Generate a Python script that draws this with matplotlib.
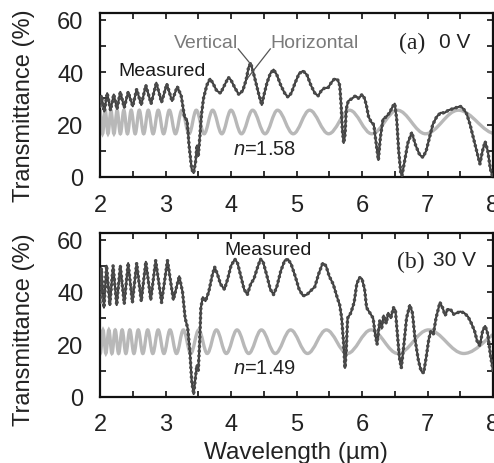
import matplotlib
matplotlib.use('Agg')
import matplotlib.pyplot as plt
from matplotlib.path import Path
from matplotlib.patches import PathPatch
from matplotlib.ticker import MultipleLocator

plt.rcParams['font.family'] = ['Liberation Sans', 'DejaVu Sans']
plt.rcParams['mathtext.fontset'] = 'custom'
plt.rcParams['mathtext.it'] = 'Liberation Sans:italic'
plt.rcParams['mathtext.rm'] = 'Liberation Sans'

# ---------------- data ----------------
# model (Fabry-Perot) extrema, panel (a) n=1.58
model_a_x = [1.962, 2.000, 2.039, 2.080, 2.122, 2.167, 2.213, 2.261, 2.311, 2.364,
             2.419, 2.476, 2.537, 2.600, 2.667, 2.737, 2.811, 2.889, 2.971, 3.059,
             3.152, 3.25, 3.36, 3.47, 3.59, 3.72, 3.86, 4.00, 4.16, 4.33,
             4.52, 4.71, 4.95, 5.20, 5.49, 5.81, 6.15, 6.54, 6.97, 7.47, 8.05]
model_a_y = [16.5, 25.5] * 20 + [16.5]

# model extrema, panel (b) n=1.49
model_b_x = [1.963, 2.004, 2.046, 2.089, 2.135, 2.182, 2.232, 2.284, 2.338, 2.395,
             2.455, 2.518, 2.584, 2.654, 2.728, 2.806, 2.888, 2.976, 3.069, 3.168,
             3.273, 3.386, 3.507, 3.637, 3.777, 3.928, 4.092, 4.270, 4.464, 4.676,
             4.910, 5.168, 5.456, 5.776, 6.138, 6.547, 7.014, 7.554, 8.183]
model_b_y = [25.5, 16.5] * 19 + [25.5]

# measured, panel (a) 0 V
meas_a_x = [2.00, 2.02, 2.065, 2.11, 2.16, 2.21, 2.26, 2.31, 2.37, 2.43, 2.50, 2.56, 2.63,
            2.70, 2.78, 2.86, 2.94, 3.02, 3.10, 3.18, 3.24, 3.29, 3.33, 3.36, 3.40, 3.43,
            3.46, 3.48, 3.50, 3.52, 3.55, 3.58, 3.63, 3.68, 3.72, 3.78, 3.84, 3.90, 3.96,
            4.00, 4.06, 4.12, 4.18, 4.23, 4.27, 4.30, 4.34, 4.38, 4.43, 4.47, 4.50, 4.55,
            4.60, 4.65, 4.70, 4.76, 4.82, 4.87, 4.92, 4.98, 5.04, 5.10, 5.16, 5.22, 5.28,
            5.33, 5.38, 5.43, 5.48, 5.53, 5.58, 5.63, 5.66, 5.68, 5.70, 5.72, 5.74, 5.76,
            5.79, 5.85, 5.90, 5.95, 6.00, 6.04, 6.07, 6.10, 6.14, 6.18, 6.21, 6.25, 6.28,
            6.32, 6.37, 6.42, 6.47, 6.50, 6.53, 6.56, 6.59, 6.61, 6.65, 6.70, 6.76, 6.82,
            6.88, 6.93, 6.98, 7.03, 7.08, 7.14, 7.20, 7.26, 7.32, 7.38, 7.44, 7.50, 7.55,
            7.60, 7.65, 7.70, 7.75, 7.80, 7.84, 7.88, 7.92, 7.96, 7.99]
meas_a_y = [27, 31, 25, 32, 25.5, 31.5, 26, 32.5, 26.5, 32.5, 27, 33.5, 27.5,
            35, 28, 36, 28.5, 35.5, 29, 34.5, 31, 23, 21.5, 12, 3, 1.5,
            6, 12, 8, 14, 24, 30, 35, 37.5, 36, 33, 32, 35, 38,
            37, 34, 31.5, 33, 37, 42, 43.5, 40, 36, 31, 27.5, 31, 36,
            39.5, 41, 39, 35, 32, 30.5, 32, 36, 39.5, 40.5, 39, 35, 32,
            31, 33, 34, 34, 36, 37.5, 37, 35, 28, 18, 13, 16, 26,
            29, 30, 31, 30, 31.5, 30, 27, 23, 21, 20, 14, 6.5, 15,
            22, 23, 24.5, 27, 28, 22, 10, 2, 0.5, 6, 13, 17, 12,
            8.5, 7.5, 10, 15, 20, 23, 24.5, 24.5, 25.5, 26, 26.5, 27, 26,
            24, 20, 15, 10, 5, 10, 13.5, 10, 3, 0.5]

# measured, panel (b) 30 V
meas_b_x = [2.00, 2.02, 2.06, 2.10, 2.15, 2.20, 2.255, 2.31, 2.37, 2.43, 2.495, 2.56,
            2.63, 2.70, 2.775, 2.85, 2.94, 3.03, 3.12, 3.21, 3.26, 3.30, 3.34, 3.37,
            3.40, 3.43, 3.46, 3.48, 3.50, 3.52, 3.54, 3.57, 3.61, 3.66, 3.71, 3.75,
            3.79, 3.84, 3.90, 3.95, 4.00, 4.06, 4.10, 4.15, 4.20, 4.25, 4.30, 4.35,
            4.40, 4.45, 4.49, 4.55, 4.60, 4.65, 4.70, 4.76, 4.82, 4.87, 4.92, 4.98,
            5.04, 5.10, 5.16, 5.22, 5.28, 5.34, 5.40, 5.45, 5.50, 5.56, 5.62, 5.66,
            5.69, 5.72, 5.74, 5.76, 5.78, 5.83, 5.88, 5.92, 5.96, 6.00, 6.04, 6.07,
            6.12, 6.17, 6.20, 6.23, 6.27, 6.30, 6.33, 6.37, 6.40, 6.44, 6.48, 6.51,
            6.54, 6.57, 6.60, 6.64, 6.68, 6.73, 6.77, 6.81, 6.86, 6.90, 6.94, 6.98,
            7.02, 7.05, 7.09, 7.13, 7.19, 7.23, 7.27, 7.31, 7.36, 7.40, 7.45, 7.50,
            7.56, 7.62, 7.67, 7.72, 7.76, 7.80, 7.84, 7.88, 7.92, 7.96, 8.00]
meas_b_y = [36, 49, 34, 50, 35, 50, 35, 50, 35.5, 51, 36, 51,
            36.5, 51.5, 37, 52, 36, 52, 37, 46, 40, 30, 26, 18,
            6, 1, 8, 12, 10, 20, 34, 38, 36.5, 40, 46, 49.5,
            47, 43, 41, 45, 50, 52.5, 51, 46, 41, 39, 43, 45,
            49, 52.5, 51.5, 46, 41, 39, 42, 48, 52, 52.5, 50.5, 46,
            41, 38.5, 39, 40.5, 42, 47, 51, 50, 46, 43, 38, 35,
            30, 20, 11, 18, 30, 32, 36, 43, 45.5, 45, 41, 34,
            32, 30, 24, 20, 29, 26, 31, 28, 32, 30, 34, 33,
            24, 15, 11, 20, 30, 35, 32, 22, 14, 10, 9, 15,
            22, 25, 24, 30, 36, 34, 31, 33.5, 33, 31.5, 32, 32.5,
            32, 30.5, 28, 25, 21, 19.5, 25, 27, 24, 16, 10]

x_ticks = [2, 3, 4, 5, 6, 7, 8]
y_ticks = [0, 20, 40, 60]

# ---------------- drawing ----------------
def smooth_path(xs, ys, k=0.36):
    verts = [(xs[0], ys[0])]
    codes = [Path.MOVETO]
    for i in range(1, len(xs)):
        x0, y0, x1, y1 = xs[i - 1], ys[i - 1], xs[i], ys[i]
        dx = x1 - x0
        verts += [(x0 + k * dx, y0), (x1 - k * dx, y1), (x1, y1)]
        codes += [Path.CURVE4] * 3
    return Path(verts, codes)

W, H = 494, 464
fig = plt.figure(figsize=(W / 100, H / 100), dpi=100)

def px_axes(left, right, top, bottom):
    return fig.add_axes([left / W, 1 - bottom / H, (right - left) / W, (bottom - top) / H])

ax_a = px_axes(100, 493, 14.3, 178)
ax_b = px_axes(100, 493, 234, 397.7)

MEAS_C = '#383838'
MODEL_C = '#b8b8b8'

for ax, mx, my, dx, dy in [(ax_a, model_a_x, model_a_y, meas_a_x, meas_a_y),
                           (ax_b, model_b_x, model_b_y, meas_b_x, meas_b_y)]:
    ax.add_patch(PathPatch(smooth_path(mx, my), fill=False, edgecolor=MODEL_C,
                           lw=2.4, zorder=2))
    ax.plot(dx, dy, color=MEAS_C, lw=1.5, zorder=3)
    ax.plot(dx, dy, color='#4a4a4a', lw=2.6, linestyle=(0, (0.01, 1.3)),
            dash_capstyle='round', zorder=3)
    ax.set_xlim(2, 8)
    ax.set_ylim(0, 62.5)
    ax.set_xticks(x_ticks)
    ax.set_yticks(y_ticks)
    ax.xaxis.set_minor_locator(MultipleLocator(0.5))
    ax.yaxis.set_minor_locator(MultipleLocator(10))
    ax.tick_params(which='both', direction='in', top=True, right=True,
                   length=4.5, width=1.2, color='#111111')
    ax.tick_params(axis='x', labelsize=17, pad=12, labelcolor='#222222')
    ax.tick_params(axis='y', labelsize=17, pad=12, labelcolor='#222222')
    for s in ax.spines.values():
        s.set_linewidth(1.6)
        s.set_color('#111111')

# texts panel (a)
ax_a.text(3.62, 51.5, 'Vertical', color='#7a7a7a', fontsize=14, ha='center', va='center')
ax_a.text(5.27, 51.5, 'Horizontal', color='#7a7a7a', fontsize=14, ha='center', va='center')
ax_a.text(6.76, 51.3, '(a)', color='#222222', fontsize=17, ha='center', va='center',
          family='Liberation Serif')
ax_a.text(7.42, 51.8, '0 V', color='#222222', fontsize=15, ha='center', va='center')
ax_a.text(2.94, 40.5, 'Measured', color='#1a1a1a', fontsize=14, ha='center', va='center')
ax_a.text(4.52, 10.7, '$n$=1.58', color='#222222', fontsize=14.5, ha='center', va='center')
ax_a.plot([4.11, 4.32], [48.9, 42.5], color='#555555', lw=0.9, zorder=4)
ax_a.plot([4.60, 4.26], [48.9, 38.0], color='#555555', lw=0.9, zorder=4)

# texts panel (b)
ax_b.text(4.56, 56.2, 'Measured', color='#1a1a1a', fontsize=14, ha='center', va='center')
ax_b.text(6.74, 51.8, '(b)', color='#222222', fontsize=17, ha='center', va='center',
          family='Liberation Serif')
ax_b.text(7.41, 52.3, '30 V', color='#222222', fontsize=15, ha='center', va='center')
ax_b.text(4.52, 11.0, '$n$=1.49', color='#222222', fontsize=14.5, ha='center', va='center')

# axis labels
fig.text(24 / W, 1 - 106 / H, 'Transmittance (%)', rotation=90, fontsize=17,
         ha='center', va='center', color='#222222')
fig.text(24 / W, 1 - 330 / H, 'Transmittance (%)', rotation=90, fontsize=17,
         ha='center', va='center', color='#222222')
fig.text(296 / W, 1 - 459 / H, 'Wavelength (µm)', fontsize=17.5,
         ha='center', va='baseline', color='#222222')

fig.savefig('out.png', dpi=100)
